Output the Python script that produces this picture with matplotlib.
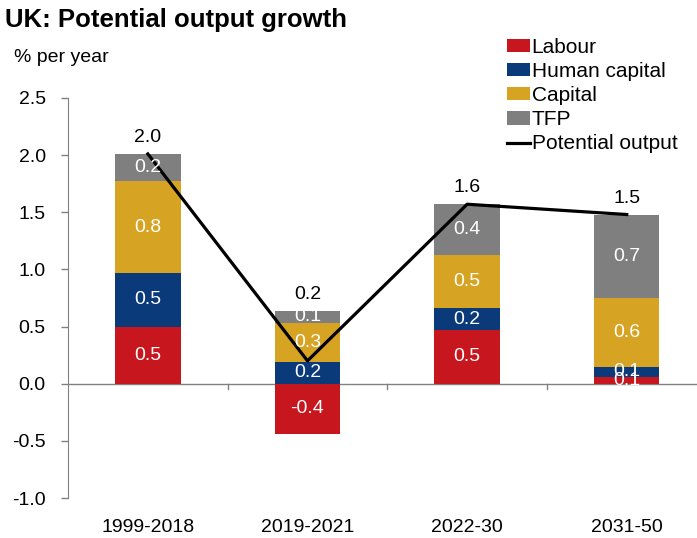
import matplotlib
matplotlib.use('Agg')
import matplotlib.pyplot as plt
from matplotlib.lines import Line2D
from matplotlib.patches import Patch
import numpy as np

plt.rcParams['font.family'] = ['Liberation Sans', 'DejaVu Sans']

periods = ['1999-2018', '2019-2021', '2022-30', '2031-50']
labour = [0.50, -0.44, 0.47, 0.06]
human_capital = [0.47, 0.19, 0.19, 0.09]
capital = [0.80, 0.34, 0.47, 0.60]
tfp = [0.24, 0.11, 0.44, 0.73]

names = ['Labour', 'Human capital', 'Capital', 'TFP']
colors = ['#c8161e', '#0b3a7a', '#d7a322', '#7f7f7f']


def fmt(v):
    return '%.1f' % v


fig = plt.figure(figsize=(6.97, 5.38), dpi=100)
ax = fig.add_axes([0.0976, 0.0743, 0.9024, 0.7437])

x = np.arange(len(periods))
width = 0.41
comps = [labour, human_capital, capital, tfp]
pos_base = np.zeros(len(periods))
neg_base = np.zeros(len(periods))

# stacked contributions, negatives stacked downward from zero
for vals, name, col in zip(comps, names, colors):
    vals = np.array(vals)
    bottom = np.where(vals >= 0, pos_base, neg_base)
    ax.bar(x, vals, width, bottom=bottom, color=col, label=name, zorder=2)
    for i in range(len(periods)):
        ax.text(x[i], bottom[i] + vals[i] / 2, fmt(vals[i]), ha='center', va='center',
                color='white', fontsize=14, zorder=4)
    pos_base = np.where(vals >= 0, pos_base + vals, pos_base)
    neg_base = np.where(vals < 0, neg_base + vals, neg_base)

total = np.sum(comps, axis=0)
ax.plot(x, total, color='black', lw=2.3, zorder=3, label='Potential output')
for i in range(len(periods)):
    ax.text(x[i], pos_base[i] + 0.07, fmt(total[i]), ha='center', va='bottom',
            fontsize=14, color='black', zorder=4)

ax.set_xlim(-0.5, 3.44)
ax.set_ylim(-1.0, 2.5)
ax.set_yticks(np.arange(-1.0, 2.51, 0.5))
ax.yaxis.set_major_formatter(matplotlib.ticker.FormatStrFormatter('%.1f'))
ax.tick_params(axis='y', labelsize=14, color='#808080', length=5, width=1, pad=11)

ax.set_xticks(x)
ax.set_xticklabels(periods)
ax.tick_params(axis='x', length=0, labelsize=14, pad=15)

for s in ['top', 'right', 'bottom']:
    ax.spines[s].set_visible(False)
ax.spines['left'].set_color('#808080')
ax.axhline(0, color='#808080', lw=1, zorder=1)
for b in [0.5, 1.5, 2.5]:
    ax.plot([b, b], [0, -0.045], color='#808080', lw=1, zorder=1, clip_on=False)

handles = [Patch(facecolor=c, label=n) for c, n in zip(colors, names)]
handles.append(Line2D([0], [0], color='black', lw=2.3, label='Potential output'))
fig.legend(handles=handles, loc='upper left', bbox_to_anchor=(0.727, 0.93),
           frameon=False, fontsize=15, handlelength=1.1, handleheight=0.6,
           handletextpad=0.1, labelspacing=0.25, borderaxespad=0, borderpad=0)

fig.text(0.007, 0.962, 'UK: Potential output growth', fontsize=18.5, fontweight='bold',
         ha='left', va='center')
fig.text(0.02, 0.894, '% per year', fontsize=14, ha='left', va='center')

fig.savefig('out.png', dpi=100)
